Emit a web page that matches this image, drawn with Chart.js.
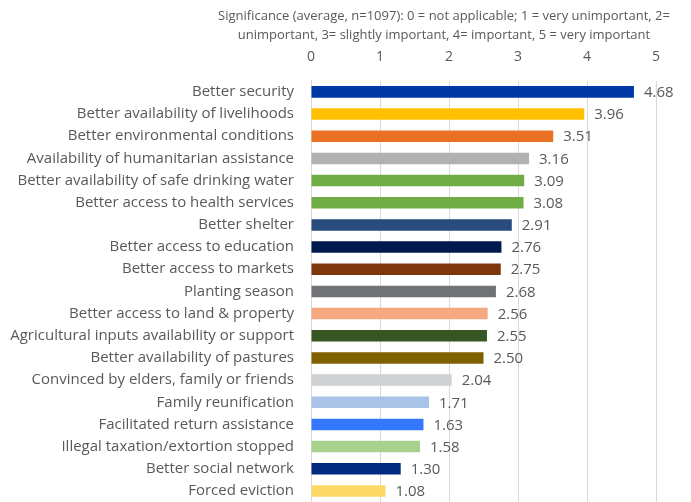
<!DOCTYPE html>
<html>
<head>
<meta charset="utf-8">
<script src="https://cdn.jsdelivr.net/npm/chart.js@4.4.1/dist/chart.umd.min.js"></script>
<style>
  html, body { margin: 0; padding: 0; background: #fff; overflow: hidden; }
  #wrap { width: 691px; height: 502px; position: relative; }
</style>
</head>
<body>
<div id="wrap"><canvas id="c"></canvas></div>
<script>
// Dados
const categories = [
  'Better security',
  'Better availability of livelihoods',
  'Better environmental conditions',
  'Availability of humanitarian assistance',
  'Better availability of safe drinking water',
  'Better access to health services',
  'Better shelter',
  'Better access to education',
  'Better access to markets',
  'Planting season',
  'Better access to land & property',
  'Agricultural inputs availability or support',
  'Better availability of pastures',
  'Convinced by elders, family or friends',
  'Family reunification',
  'Facilitated return assistance',
  'Illegal taxation/extortion stopped',
  'Better social network',
  'Forced eviction'
];
const values = [4.68, 3.96, 3.51, 3.16, 3.09, 3.08, 2.91, 2.76, 2.75, 2.68, 2.56, 2.55, 2.50, 2.04, 1.71, 1.63, 1.58, 1.30, 1.08];
const barColors = [
  '#0039A6', '#FFC000', '#EA7024', '#B0B1B3', '#70AD47', '#70AD47', '#284C7E',
  '#00194F', '#7E370C', '#717275', '#F4AA7E', '#375623', '#7F6000', '#D0D1D3',
  '#A9C3E6', '#3478FF', '#A9D18E', '#002A7E', '#FFD966'
];
const titleLines = [
  'Significance (average, n=1097): 0 = not applicable; 1 = very unimportant, 2=',
  'unimportant, 3= slightly important, 4= important, 5 = very important'
];

const FONT = '"Open Sans", "Noto Sans", sans-serif';
const GREY = '#595959';

// titulo desenhado à mão (centrado como no original)
const titlePlugin = {
  id: 'topTitle',
  afterDraw(chart) {
    const ctx = chart.ctx;
    ctx.save();
    ctx.font = '13px ' + FONT;
    ctx.fillStyle = GREY;
    ctx.textAlign = 'center';
    ctx.textBaseline = 'middle';
    ctx.fillText(titleLines[0], 444, 16);
    ctx.fillText(titleLines[1], 444, 35);
    ctx.restore();
  }
};

// rótulos de valor no fim das barras
const valueLabels = {
  id: 'valueLabels',
  afterDatasetsDraw(chart) {
    const ctx = chart.ctx;
    const meta = chart.getDatasetMeta(0);
    ctx.save();
    ctx.font = '15px ' + FONT;
    ctx.fillStyle = GREY;
    ctx.textAlign = 'left';
    ctx.textBaseline = 'middle';
    meta.data.forEach((bar, i) => {
      ctx.fillText(values[i].toFixed(2), bar.x + 10, bar.y + 1);
    });
    ctx.restore();
  }
};

new Chart(document.getElementById('c'), {
  type: 'bar',
  data: {
    labels: categories,
    datasets: [{
      data: values,
      backgroundColor: barColors,
      borderWidth: 0,
      categoryPercentage: 1,
      barPercentage: 0.52
    }]
  },
  options: {
    indexAxis: 'y',
    responsive: true,
    maintainAspectRatio: false,
    animation: false,
    // eixo x no topo ocupa altura do rótulo + 2x padding
    layout: { padding: { top: 34, right: 35, bottom: 0, left: 10 } },
    scales: {
      x: {
        position: 'top',
        min: 0,
        max: 5,
        ticks: { stepSize: 1, padding: 15, color: GREY, font: { family: FONT, size: 14 } },
        grid: { color: '#D9D9D9', lineWidth: 1, drawTicks: false },
        border: { display: false }
      },
      y: {
        // padding 0 aqui; o espaço vem do tickLength
        ticks: { padding: 0, color: GREY, font: { family: FONT, size: 15 }, autoSkip: false },
        grid: { color: 'transparent', tickColor: 'transparent', drawTicks: true, tickLength: 17 },
        border: { display: true, color: '#D9D9D9' },
        afterFit(s) {
          s.width = 301;
          // barras vão até o fundo do canvas, sem margem extra dos rótulos
          s.paddingTop = 0;
          s.paddingBottom = 0;
        }
      }
    },
    plugins: {
      legend: { display: false },
      tooltip: { enabled: false }
    }
  },
  plugins: [titlePlugin, valueLabels]
});
</script>
</body>
</html>
